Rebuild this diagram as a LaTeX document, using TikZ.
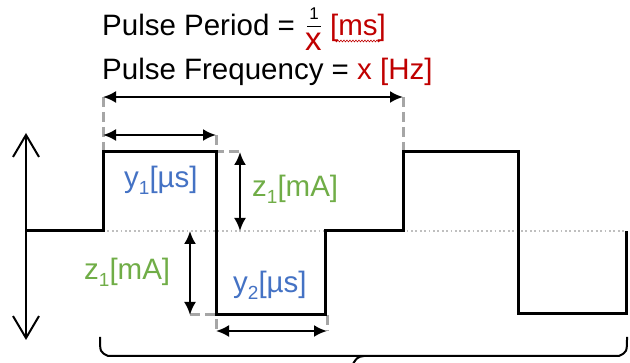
\documentclass[tikz,border=0pt]{standalone}
\usepackage{fontspec}
\setmainfont{Liberation Sans}
\usetikzlibrary{arrows.meta,decorations.pathmorphing}
\definecolor{pred}{HTML}{C00000}
\definecolor{pblue}{HTML}{4472C4}
\definecolor{pgreen}{HTML}{70AD47}
\definecolor{pgray}{HTML}{A6A6A6}
\definecolor{pdot}{HTML}{BFBFBF}
\newcommand{\lowsub}[1]{\raisebox{-0.22em}{\fontsize{19}{19}\selectfont #1}}
\begin{document}
\begin{tikzpicture}[x=1pt,y=-1pt,
  wave/.style={line width=3pt, line join=miter, line cap=rect},
  dim/.style={line width=2.2pt, {Latex[length=13pt,width=12pt]}-{Latex[length=13pt,width=12pt]}},
  bigarrow/.style={line width=2pt, {Straight Barb[length=22pt,width=26pt]}-{Straight Barb[length=22pt,width=26pt]}},
  guide/.style={pgray, line width=3pt, dash pattern=on 10pt off 5pt},
  base/.style={pdot, line width=1.8pt, dash pattern=on 1.8pt off 2.6pt},
  txt/.style={font=\fontsize{29.5}{31}\selectfont, inner sep=0pt, anchor=base west},
]
\useasboundingbox (0,0) rectangle (630,363);
\clip (0,0) rectangle (630,363);

% key coordinates
\coordinate (b0) at (27,231);
\coordinate (p1) at (103,231);
\coordinate (p2) at (103,152);
\coordinate (p3) at (216,152);
\coordinate (p4) at (216,315);
\coordinate (p5) at (325,315);
\coordinate (p6) at (325,231);
\coordinate (p7) at (403,231);
\coordinate (p8) at (403,152);
\coordinate (p9) at (518,152);
\coordinate (p10) at (518,314);
\coordinate (p11) at (626,314);
\coordinate (p12) at (626,233);
\coordinate (bend) at (626,231);

% dotted baseline
\draw[base] (p1) -- (bend);

% guides
\coordinate (gA) at (103,97);
\coordinate (gB) at (403,97);
\coordinate (gC) at (216,135);
\coordinate (gD) at (240,152);
\coordinate (gE) at (190,315);
\coordinate (gF) at (216,331);
\coordinate (gG) at (327,331);
\coordinate (gH) at (327,315);
\draw[guide] (gA) -- (p2);
\draw[guide] (gB) -- (p8);
\draw[guide] (gC) -- (p3) -- (gD);
\draw[guide] (gE) -- (p4) -- (gF);
\draw[guide] (gH) -- (gG);

% waveform
\draw[wave] (b0) -- (p1) -- (p2) -- (p3) -- (p4) -- (p5) -- (p6) -- (p7) -- (p8) -- (p9) -- (p10) -- (p11) -- (p12);

% left amplitude arrow
\coordinate (la) at (26,133);
\coordinate (lb) at (26,340);
\draw[bigarrow] (la) -- (lb);

% dimension arrows
\coordinate (y1a) at (103,135);
\coordinate (y1b) at (216,135);
\draw[dim] (gA) -- (gB);
\draw[dim] (y1a) -- (y1b);
\coordinate (z1a) at (240,152);
\coordinate (z1b) at (240,231);
\draw[dim] (z1a) -- (z1b);
\coordinate (z2a) at (190,231);
\coordinate (z2b) at (190,315);
\draw[dim] (z2a) -- (z2b);
\coordinate (y2a) at (216,331);
\coordinate (y2b) at (327,331);
\draw[dim] (y2a) -- (y2b);

% bottom brace
\coordinate (brL) at (100,337);
\coordinate (brR) at (627,337);
\coordinate (brM) at (364,356);
\coordinate (brT) at (350,369);
\draw[line width=2pt] (brL) .. controls (100,352) .. (108,356) -- (619,356) .. controls (627,352) .. (brR);
\draw[line width=2pt] (brM) .. controls (357,357) .. (brT);

% titles
\node[txt] (t1) at (102,36) {Pulse Period =};
\node[font=\fontsize{17}{17}\selectfont, inner sep=0pt] (one) at (314,14) {1};
\draw[line width=0.8pt] (307,26) -- (321,26);
\node[font=\fontsize{33}{33}\selectfont, inner sep=0pt, anchor=base west, pred] (xx) at (305,51) {x};
\node[txt, pred] (ms) at (330,36) {[ms]};
\draw[pred, line width=0.6pt, decorate, decoration={snake, amplitude=0.9pt, segment length=3pt}] (334,41) -- (380,41);
\node[txt] (t2) at (102,80) {Pulse Frequency = \textcolor{pred}{x [Hz]}};

% labels
\node[txt, pblue] (ly1) at (124,188) {y\lowsub{1}[µs]};
\node[txt, pgreen] (lz1) at (252,197) {z\lowsub{1}[mA]};
\node[txt, pgreen] (lz2) at (84,280) {z\lowsub{1}[mA]};
\node[txt, pblue] (ly2) at (233,293) {y\lowsub{2}[µs]};
\end{tikzpicture}
\end{document}
